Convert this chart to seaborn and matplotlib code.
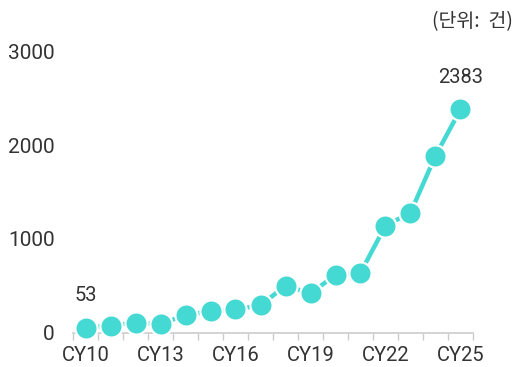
import matplotlib
matplotlib.use("Agg")
import matplotlib.pyplot as plt
import seaborn as sns
import pandas as pd
import numpy as np

years = ["CY10", "CY11", "CY12", "CY13", "CY14", "CY15", "CY16", "CY17",
         "CY18", "CY19", "CY20", "CY21", "CY22", "CY23", "CY24", "CY25"]
counts = [53, 73, 105, 88, 187, 226, 248, 290,
          500, 419, 614, 639, 1141, 1280, 1889, 2383]
shown_years = ["CY10", "CY13", "CY16", "CY19", "CY22", "CY25"]
y_ticks = [0, 1000, 2000, 3000]
unit_text = "(단위:  건)"

sns.set_theme(style="white")
plt.rcParams["font.family"] = ["Roboto", "Noto Sans CJK KR", "DejaVu Sans"]

df = pd.DataFrame({"pos": np.arange(len(years)), "year": years, "count": counts})

fig = plt.figure(figsize=(5.17, 3.67), dpi=100)
ax = fig.add_axes([73 / 517, (367 - 332.5) / 367, 400 / 517, (332.5 - 51.7) / 367])

teal = "#45D9D3"
sns.lineplot(data=df, x="pos", y="count", ax=ax, color=teal, linewidth=3.2,
             marker="o", markersize=16, markeredgecolor="white",
             markeredgewidth=1.6, clip_on=False, zorder=3)

ax.set_xlim(-0.5, len(years) - 0.5)
ax.set_ylim(0, 3000)

# category labels every third year, tick marks on band boundaries
ax.set_xticks([years.index(y) for y in shown_years])
ax.set_xticklabels(shown_years, fontsize=14.5, color="#333333")
ax.set_xticks(np.arange(-0.5, len(years)), minor=True)
ax.tick_params(axis="x", which="major", length=0, pad=10)
ax.tick_params(axis="x", which="minor", length=5, width=1, color="#cccccc",
               direction="out", bottom=True)

ax.set_yticks(y_ticks)
ax.set_yticklabels([str(v) for v in y_ticks], fontsize=15, color="#333333")
ax.tick_params(axis="y", length=0, pad=13)

for side in ["left", "right", "top"]:
    ax.spines[side].set_visible(False)
ax.spines["bottom"].set_color("#cccccc")
ax.spines["bottom"].set_linewidth(1.2)

ax.set_xlabel("")
ax.set_ylabel("")

# value labels on first and last points
for i in (0, len(years) - 1):
    ax.annotate(str(counts[i]), (i, counts[i]), xytext=(0, 23),
                textcoords="offset points", ha="center", va="center",
                fontsize=14.5, color="#333333")

fig.text(513 / 517, 1 - 22 / 367, unit_text, ha="right", va="center",
         fontsize=14, color="#333333",
         family=["Noto Sans CJK KR", "DejaVu Sans"])

fig.savefig("out.png", dpi=100)
